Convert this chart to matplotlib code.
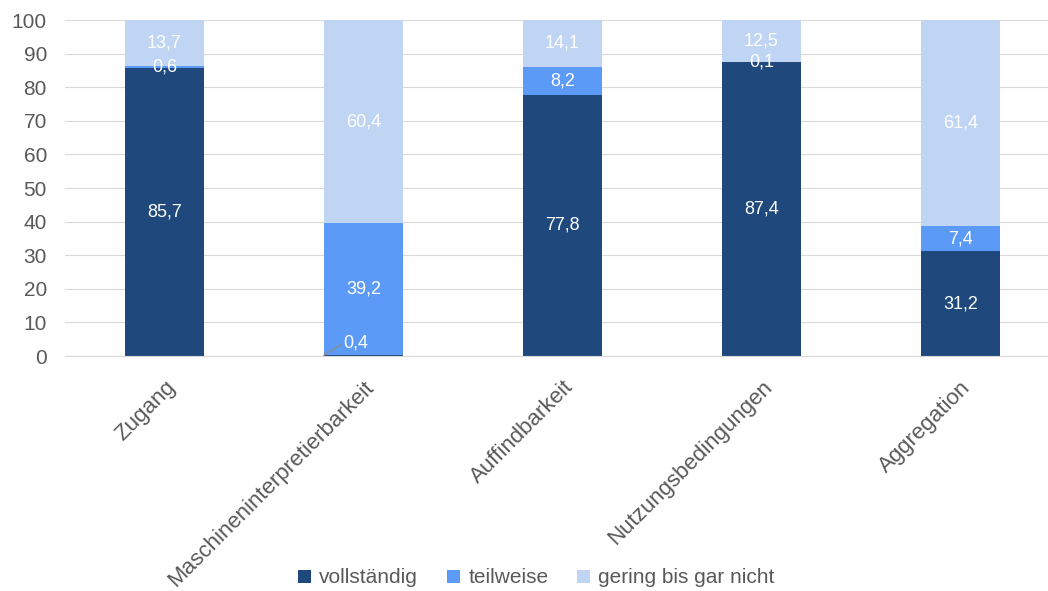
import matplotlib
matplotlib.use("Agg")
import matplotlib.pyplot as plt
import numpy as np

categories = ["Zugang", "Maschineninterpretierbarkeit", "Auffindbarkeit", "Nutzungsbedingungen", "Aggregation"]
vollstaendig = [85.7, 0.4, 77.8, 87.4, 31.2]
teilweise = [0.6, 39.2, 8.2, 0.1, 7.4]
gering = [13.7, 60.4, 14.1, 12.5, 61.4]
series_names = ["vollständig", "teilweise", "gering bis gar nicht"]
yticks = [0, 10, 20, 30, 40, 50, 60, 70, 80, 90, 100]

colors = ["#1F497D", "#5B9BF7", "#C0D5F4"]

plt.rcParams['font.family'] = ['Liberation Sans', 'DejaVu Sans']

fig = plt.figure(figsize=(10.48, 5.91), dpi=100)
ax = fig.add_axes([0.062, 0.3976, 0.94, 0.5685])

x = np.arange(len(categories))
w = 0.40
bottom = np.zeros(len(categories))
for vals, col, name in zip([vollstaendig, teilweise, gering], colors, series_names):
    vals = np.array(vals)
    ax.bar(x, vals, w, bottom=bottom, color=col, label=name, zorder=2)
    for i, v in enumerate(vals):
        yc = bottom[i] + v / 2
        lbl = f"{v:.1f}".replace(".", ",")
        if v < 1 and bottom[i] < 1:
            ax.annotate(lbl, xy=(x[i] - w / 2, bottom[i] + v / 2), xytext=(x[i] - 0.04, 4),
                        ha="center", va="center", color="white", fontsize=13,
                        arrowprops=dict(arrowstyle="-", color="#8C8C8C", lw=0.9,
                                        relpos=(0, 0.45), patchA=None,
                                        shrinkA=2, shrinkB=0), zorder=3)
        else:
            ax.text(x[i], yc, lbl, ha="center", va="center", color="white", fontsize=13, zorder=3)
    bottom += vals

ax.set_ylim(0, 100)
ax.set_xlim(-0.5, 4.45)
ax.set_yticks(yticks)
ax.set_yticklabels([str(t) for t in yticks], fontsize=15, color="#595959")
ax.set_xticks(x)
ax.set_xticklabels(categories, rotation=45, ha="right", rotation_mode="anchor", fontsize=16, color="#595959")
ax.tick_params(axis="y", length=0, pad=13)
ax.tick_params(axis="x", length=0, pad=15)
ax.yaxis.grid(True, color="#D9D9D9", lw=0.8, zorder=0)
ax.set_axisbelow(True)
for s in ["top", "right", "left"]:
    ax.spines[s].set_visible(False)
ax.spines["bottom"].set_color("#D9D9D9")

fig.legend(loc="center", bbox_to_anchor=(0.512, 0.022), ncol=3, frameon=False,
           fontsize=15, handlelength=0.6, handleheight=0.6, handletextpad=0.4,
           columnspacing=1.4, labelcolor="#595959")

fig.savefig("out.png", dpi=100)
